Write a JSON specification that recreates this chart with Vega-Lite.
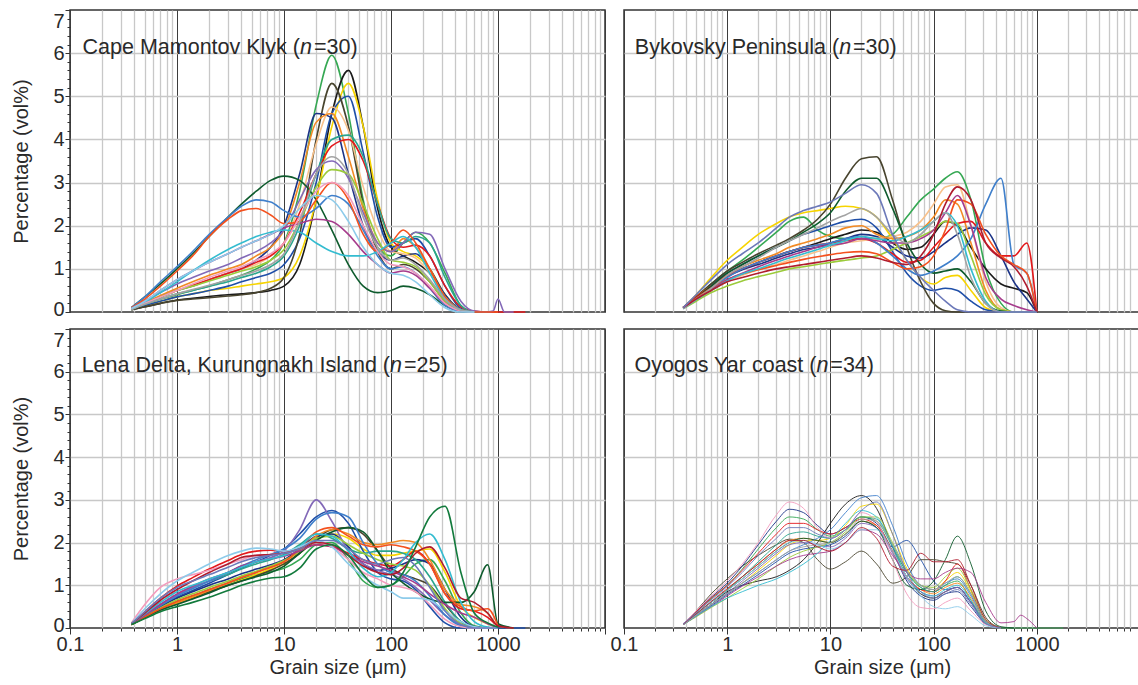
{
"$schema":"https://vega.github.io/schema/vega-lite/v6.json",
"padding":{"left":11,"top":7,"right":0,"bottom":0},
"config":{"font":"Liberation Sans","view":{"stroke":"#333","strokeWidth":1.5},
"axis":{"labelFont":"Liberation Sans","labelFontSize":20,"labelColor":"#2a2a2a","titleFont":"Liberation Sans","titleFontSize":20,"titleFontWeight":"normal","titleColor":"#2a2a2a","tickCount":200},
"text":{"font":"Liberation Sans","fontSize":21.5,"color":"#2a2a2a"}},
"datasets":{
"A":[
{"x":0.375,"k1":0.08,"k2":0.05,"k3":0.06,"k4":0.06,"k5":0.05,"k6":0.07,"k7":0.08,"k8":0.08,"k9":0.07,"k10":0.06,"k11":0.08,"k12":0.07,"k13":0.1,"k14":0.1,"k15":0.1,"k16":0.08,"k17":0.07,"k18":0.07,"k19":0.06,"k20":0.08},
{"x":0.5,"k1":0.18,"k2":0.12,"k3":0.15,"k4":0.15,"k5":0.12,"k6":0.2,"k7":0.2,"k8":0.22,"k9":0.2,"k10":0.18,"k11":0.25,"k12":0.2,"k13":0.35,"k14":0.35,"k15":0.3,"k16":0.25,"k17":0.22,"k18":0.2,"k19":0.18,"k20":0.25},
{"x":0.7,"k1":0.3,"k2":0.2,"k3":0.25,"k4":0.25,"k5":0.2,"k6":0.35,"k7":0.35,"k8":0.38,"k9":0.35,"k10":0.3,"k11":0.45,"k12":0.35,"k13":0.65,"k14":0.7,"k15":0.6,"k16":0.5,"k17":0.45,"k18":0.35,"k19":0.3,"k20":0.5},
{"x":1,"k1":0.4,"k2":0.28,"k3":0.35,"k4":0.35,"k5":0.27,"k6":0.5,"k7":0.5,"k8":0.55,"k9":0.5,"k10":0.42,"k11":0.65,"k12":0.5,"k13":1.0,"k14":1.05,"k15":0.95,"k16":0.75,"k17":0.7,"k18":0.5,"k19":0.42,"k20":0.75},
{"x":1.4,"k1":0.5,"k2":0.32,"k3":0.42,"k4":0.42,"k5":0.3,"k6":0.6,"k7":0.62,"k8":0.7,"k9":0.62,"k10":0.5,"k11":0.8,"k12":0.6,"k13":1.35,"k14":1.4,"k15":1.3,"k16":0.95,"k17":0.95,"k18":0.65,"k19":0.52,"k20":0.95},
{"x":2,"k1":0.6,"k2":0.36,"k3":0.5,"k4":0.5,"k5":0.33,"k6":0.75,"k7":0.75,"k8":0.85,"k9":0.75,"k10":0.6,"k11":0.95,"k12":0.72,"k13":1.75,"k14":1.8,"k15":1.75,"k16":1.15,"k17":1.2,"k18":0.8,"k19":0.62,"k20":1.15},
{"x":3,"k1":0.75,"k2":0.4,"k3":0.55,"k4":0.6,"k5":0.37,"k6":0.9,"k7":0.9,"k8":1.0,"k9":0.9,"k10":0.7,"k11":1.1,"k12":0.85,"k13":2.2,"k14":2.2,"k15":2.15,"k16":1.35,"k17":1.45,"k18":0.95,"k19":0.75,"k20":1.35},
{"x":4,"k1":0.85,"k2":0.42,"k3":0.6,"k4":0.7,"k5":0.4,"k6":1.0,"k7":1.0,"k8":1.1,"k9":1.0,"k10":0.8,"k11":1.25,"k12":0.95,"k13":2.5,"k14":2.45,"k15":2.35,"k16":1.5,"k17":1.6,"k18":1.05,"k19":0.85,"k20":1.5},
{"x":5.5,"k1":1.0,"k2":0.45,"k3":0.65,"k4":0.8,"k5":0.45,"k6":1.2,"k7":1.1,"k8":1.3,"k9":1.15,"k10":0.9,"k11":1.4,"k12":1.05,"k13":2.8,"k14":2.6,"k15":2.4,"k16":1.65,"k17":1.75,"k18":1.2,"k19":0.95,"k20":1.65},
{"x":7.5,"k1":1.2,"k2":0.5,"k3":0.7,"k4":0.9,"k5":0.55,"k6":1.5,"k7":1.3,"k8":1.5,"k9":1.3,"k10":1.05,"k11":1.6,"k12":1.2,"k13":3.05,"k14":2.55,"k15":2.25,"k16":1.8,"k17":1.85,"k18":1.35,"k19":1.1,"k20":1.8},
{"x":10,"k1":1.6,"k2":0.6,"k3":0.8,"k4":1.1,"k5":0.8,"k6":2.0,"k7":1.6,"k8":1.9,"k9":1.6,"k10":1.3,"k11":1.9,"k12":1.45,"k13":3.15,"k14":2.35,"k15":2.05,"k16":1.95,"k17":1.9,"k18":1.6,"k19":1.35,"k20":2.0},
{"x":14,"k1":2.8,"k2":1.1,"k3":1.3,"k4":1.7,"k5":1.8,"k6":3.2,"k7":2.5,"k8":3.0,"k9":2.3,"k10":2.0,"k11":2.6,"k12":2.1,"k13":3.05,"k14":2.2,"k15":2.1,"k16":2.05,"k17":1.85,"k18":2.2,"k19":2.1,"k20":2.4},
{"x":20,"k1":4.8,"k2":2.6,"k3":2.6,"k4":3.0,"k5":4.0,"k6":4.6,"k7":3.9,"k8":4.4,"k9":3.2,"k10":3.2,"k11":3.3,"k12":2.9,"k13":2.6,"k14":2.4,"k15":2.6,"k16":2.15,"k17":1.6,"k18":2.8,"k19":3.2,"k20":2.7},
{"x":28,"k1":5.95,"k2":4.6,"k3":4.3,"k4":4.6,"k5":5.3,"k6":4.5,"k7":4.75,"k8":4.6,"k9":3.85,"k10":4.0,"k11":3.5,"k12":3.3,"k13":1.9,"k14":2.7,"k15":3.0,"k16":2.1,"k17":1.4,"k18":3.0,"k19":3.6,"k20":2.6},
{"x":40,"k1":4.6,"k2":5.6,"k3":5.3,"k4":5.0,"k5":4.3,"k6":3.2,"k7":4.2,"k8":3.6,"k9":4.0,"k10":4.1,"k11":3.1,"k12":3.2,"k13":1.1,"k14":2.5,"k15":2.6,"k16":1.8,"k17":1.3,"k18":2.7,"k19":3.2,"k20":2.1},
{"x":55,"k1":2.6,"k2":4.3,"k3":4.3,"k4":3.7,"k5":2.5,"k6":2.0,"k7":2.9,"k8":2.4,"k9":3.5,"k10":3.6,"k11":2.3,"k12":2.5,"k13":0.6,"k14":1.9,"k15":1.8,"k16":1.4,"k17":1.3,"k18":2.0,"k19":2.2,"k20":1.5},
{"x":75,"k1":1.5,"k2":2.4,"k3":2.6,"k4":2.2,"k5":1.4,"k6":1.4,"k7":1.9,"k8":1.6,"k9":2.5,"k10":2.5,"k11":1.6,"k12":1.7,"k13":0.45,"k14":1.3,"k15":1.4,"k16":1.1,"k17":1.4,"k18":1.4,"k19":1.5,"k20":1.1},
{"x":100,"k1":1.3,"k2":1.5,"k3":1.6,"k4":1.5,"k5":1.0,"k6":1.2,"k7":1.4,"k8":1.4,"k9":1.7,"k10":1.7,"k11":1.4,"k12":1.2,"k13":0.5,"k14":1.0,"k15":1.6,"k16":0.9,"k17":1.6,"k18":1.1,"k19":1.2,"k20":0.9},
{"x":130,"k1":1.6,"k2":1.3,"k3":1.4,"k4":1.6,"k5":1.1,"k6":1.3,"k7":1.35,"k8":1.7,"k9":1.5,"k10":1.6,"k11":1.6,"k12":1.15,"k13":0.6,"k14":1.05,"k15":1.9,"k16":0.95,"k17":1.75,"k18":1.05,"k19":1.25,"k20":0.85},
{"x":170,"k1":1.85,"k2":1.15,"k3":1.3,"k4":1.7,"k5":1.0,"k6":1.35,"k7":1.25,"k8":1.5,"k9":1.55,"k10":1.75,"k11":1.85,"k12":1.05,"k13":0.55,"k14":0.9,"k15":1.6,"k16":0.85,"k17":1.5,"k18":0.9,"k19":1.1,"k20":0.7},
{"x":230,"k1":1.6,"k2":0.9,"k3":1.0,"k4":1.3,"k5":0.7,"k6":1.0,"k7":0.9,"k8":1.0,"k9":1.3,"k10":1.6,"k11":1.8,"k12":0.7,"k13":0.4,"k14":0.55,"k15":1.0,"k16":0.55,"k17":0.9,"k18":0.6,"k19":0.75,"k20":0.4},
{"x":320,"k1":0.9,"k2":0.4,"k3":0.4,"k4":0.6,"k5":0.25,"k6":0.4,"k7":0.35,"k8":0.35,"k9":0.6,"k10":0.8,"k11":1.0,"k12":0.25,"k13":0.15,"k14":0.15,"k15":0.35,"k16":0.2,"k17":0.3,"k18":0.2,"k19":0.3,"k20":0.1},
{"x":450,"k1":0.15,"k2":0.05,"k3":0.05,"k4":0.08,"k5":0.03,"k6":0.05,"k7":0.05,"k8":0.05,"k9":0.12,"k10":0.15,"k11":0.25,"k12":0.03,"k13":0.02,"k14":0.02,"k15":0.05,"k16":0.03,"k17":0.05,"k18":0.03,"k19":0.04,"k20":0},
{"x":600,"k1":0,"k2":0,"k3":0,"k4":0,"k5":0,"k6":0,"k7":0,"k8":0,"k9":0.02,"k10":0,"k11":0.02,"k12":0,"k13":0,"k14":0,"k15":0,"k16":0,"k17":0,"k18":0,"k19":0,"k20":0},
{"x":800,"k1":0,"k2":0,"k4":0,"k9":0,"k10":0,"k11":0,"k15":0},
{"x":900,"k11":0.02},
{"x":1000,"k9":0,"k11":0.3,"k15":0},
{"x":1150,"k11":0},
{"x":1400,"k9":0,"k11":0},
{"x":1800,"k9":0}
],
"B":[
{"x":0.375,"k1":0.1,"k2":0.1,"k3":0.1,"k4":0.1,"k5":0.1,"k6":0.1,"k7":0.08,"k8":0.1,"k9":0.1,"k12":0.08,"k13":0.1,"k14":0.08,"k15":0.1,"k16":0.09,"k17":0.08,"k19":0.08,"k21":0.1,"k22":0.1},
{"x":0.5,"k1":0.35,"k2":0.33,"k3":0.4,"k4":0.35,"k5":0.35,"k6":0.33,"k7":0.28,"k8":0.35,"k9":0.35,"k12":0.25,"k13":0.33,"k14":0.3,"k15":0.32,"k16":0.3,"k17":0.28,"k19":0.3,"k21":0.3,"k22":0.4},
{"x":0.7,"k1":0.65,"k2":0.6,"k3":0.8,"k4":0.62,"k5":0.65,"k6":0.58,"k7":0.5,"k8":0.6,"k9":0.6,"k12":0.45,"k13":0.6,"k14":0.55,"k15":0.55,"k16":0.52,"k17":0.5,"k19":0.55,"k21":0.5,"k22":0.75},
{"x":1,"k1":0.95,"k2":0.85,"k3":1.2,"k4":0.9,"k5":0.95,"k6":0.82,"k7":0.7,"k8":0.85,"k9":0.85,"k12":0.6,"k13":0.9,"k14":0.8,"k15":0.75,"k16":0.75,"k17":0.72,"k19":0.85,"k21":0.7,"k22":1.1},
{"x":1.4,"k1":1.2,"k2":1.0,"k3":1.5,"k4":1.1,"k5":1.15,"k6":0.98,"k7":0.85,"k8":1.05,"k9":1.0,"k12":0.72,"k13":1.1,"k14":1.0,"k15":0.88,"k16":0.9,"k17":0.88,"k19":1.05,"k21":0.8,"k22":1.35},
{"x":2,"k1":1.5,"k2":1.15,"k3":1.8,"k4":1.3,"k5":1.35,"k6":1.1,"k7":0.98,"k8":1.2,"k9":1.15,"k12":0.82,"k13":1.3,"k14":1.15,"k15":0.98,"k16":1.05,"k17":1.0,"k19":1.25,"k21":0.9,"k22":1.6},
{"x":3,"k1":1.85,"k2":1.3,"k3":2.05,"k4":1.5,"k5":1.55,"k6":1.25,"k7":1.1,"k8":1.35,"k9":1.3,"k12":0.92,"k13":1.5,"k14":1.3,"k15":1.08,"k16":1.2,"k17":1.15,"k19":1.5,"k21":1.0,"k22":1.95},
{"x":4,"k1":2.1,"k2":1.4,"k3":2.2,"k4":1.65,"k5":1.7,"k6":1.35,"k7":1.2,"k8":1.5,"k9":1.4,"k12":1.0,"k13":1.65,"k14":1.4,"k15":1.15,"k16":1.3,"k17":1.25,"k19":1.65,"k21":1.05,"k22":2.2},
{"x":5.5,"k1":2.2,"k2":1.5,"k3":2.3,"k4":1.8,"k5":1.9,"k6":1.45,"k7":1.3,"k8":1.6,"k9":1.5,"k12":1.05,"k13":1.85,"k14":1.5,"k15":1.22,"k16":1.4,"k17":1.35,"k19":1.8,"k21":1.1,"k22":2.35},
{"x":7.5,"k1":1.9,"k2":1.6,"k3":2.35,"k4":1.9,"k5":2.15,"k6":1.5,"k7":1.4,"k8":1.7,"k9":1.55,"k12":1.1,"k13":2.05,"k14":1.55,"k15":1.28,"k16":1.5,"k17":1.45,"k19":1.95,"k21":1.15,"k22":2.45},
{"x":10,"k1":1.75,"k2":1.7,"k3":2.4,"k4":2.0,"k5":2.5,"k6":1.6,"k7":1.5,"k8":1.8,"k9":1.6,"k12":1.15,"k13":2.3,"k14":1.6,"k15":1.33,"k16":1.55,"k17":1.55,"k19":2.1,"k21":1.2,"k22":2.55},
{"x":14,"k1":1.7,"k2":1.8,"k3":2.45,"k4":2.1,"k5":3.1,"k6":1.7,"k7":1.6,"k8":1.95,"k9":1.65,"k12":1.2,"k13":2.8,"k14":1.7,"k15":1.38,"k16":1.6,"k17":1.65,"k19":2.25,"k21":1.25,"k22":2.75},
{"x":20,"k1":1.7,"k2":1.9,"k3":2.4,"k4":2.15,"k5":3.55,"k6":1.8,"k7":1.65,"k8":2.0,"k9":1.7,"k12":1.25,"k13":3.1,"k14":1.75,"k15":1.4,"k16":1.7,"k17":1.75,"k19":2.4,"k21":1.3,"k22":2.95},
{"x":28,"k1":1.7,"k2":1.85,"k3":2.2,"k4":1.95,"k5":3.6,"k6":1.75,"k7":1.7,"k8":1.8,"k9":1.6,"k12":1.3,"k13":3.1,"k14":1.6,"k15":1.35,"k16":1.65,"k17":1.7,"k19":2.2,"k21":1.25,"k22":2.75},
{"x":40,"k1":1.8,"k2":1.6,"k3":1.7,"k4":1.4,"k5":2.6,"k6":1.5,"k7":1.75,"k8":1.7,"k9":1.35,"k12":1.45,"k13":2.4,"k14":1.3,"k15":1.15,"k16":1.6,"k17":1.65,"k19":1.8,"k21":1.15,"k22":1.8},
{"x":55,"k1":2.2,"k2":1.45,"k3":1.2,"k4":0.9,"k5":1.5,"k6":1.3,"k7":1.85,"k8":1.75,"k9":1.15,"k12":1.6,"k13":1.6,"k14":1.0,"k15":1.0,"k16":1.6,"k17":1.75,"k19":1.6,"k21":1.1,"k22":1.2},
{"x":75,"k1":2.6,"k2":1.5,"k3":0.8,"k4":0.6,"k5":0.7,"k6":1.25,"k7":2.1,"k8":1.9,"k9":1.2,"k12":1.75,"k13":1.1,"k14":0.85,"k15":1.05,"k16":1.7,"k17":1.9,"k19":1.8,"k21":1.3,"k22":0.8},
{"x":100,"k1":2.85,"k2":1.8,"k3":0.65,"k4":0.5,"k5":0.2,"k6":1.4,"k7":2.5,"k8":2.2,"k9":1.5,"k12":1.9,"k13":0.9,"k14":0.95,"k15":1.3,"k16":1.9,"k17":2.1,"k19":2.1,"k21":1.8,"k22":0.5},
{"x":130,"k1":3.1,"k2":2.1,"k3":0.8,"k4":0.55,"k5":0.03,"k6":1.6,"k7":2.9,"k8":2.6,"k9":1.8,"k12":2.1,"k13":0.95,"k14":1.1,"k15":1.9,"k16":2.3,"k17":2.3,"k19":2.3,"k21":2.5,"k22":0.25},
{"x":170,"k1":3.25,"k2":2.0,"k3":0.85,"k4":0.5,"k5":0,"k6":1.8,"k7":2.95,"k8":2.5,"k9":2.05,"k12":2.05,"k13":1.0,"k14":1.3,"k15":2.6,"k16":2.7,"k17":2.0,"k19":1.8,"k21":2.9,"k22":0.05},
{"x":230,"k1":2.6,"k2":1.5,"k3":0.5,"k4":0.25,"k5":0,"k6":1.95,"k7":2.0,"k8":1.6,"k9":2.1,"k12":1.3,"k13":0.7,"k14":1.7,"k15":2.5,"k16":2.0,"k17":1.0,"k19":0.8,"k21":2.6,"k22":0},
{"x":320,"k1":1.0,"k2":1.0,"k3":0.1,"k4":0.05,"k5":0,"k6":1.9,"k7":0.7,"k8":0.5,"k9":1.6,"k12":0.4,"k13":0.2,"k14":2.5,"k15":1.8,"k16":0.8,"k17":0.25,"k19":0.2,"k21":1.6,"k22":0},
{"x":450,"k1":0.2,"k2":0.65,"k3":0,"k4":0,"k5":0,"k6":1.3,"k7":0.1,"k8":0.05,"k9":1.3,"k12":0.05,"k13":0.02,"k14":3.1,"k15":1.3,"k16":0.3,"k17":0,"k19":0,"k21":1.25,"k22":0},
{"x":600,"k1":0,"k2":0.55,"k3":0,"k4":0,"k5":0,"k6":0.7,"k7":0,"k8":0,"k9":1.3,"k12":0,"k13":0,"k14":1.1,"k15":1.1,"k16":0.15,"k17":0,"k19":0,"k21":1.05,"k22":0},
{"x":800,"k1":0,"k2":0.45,"k3":0,"k4":0,"k5":0,"k6":0.3,"k7":0,"k8":0,"k9":1.6,"k12":0,"k13":0,"k14":0.9,"k15":0.9,"k16":0.05,"k17":0,"k19":0,"k21":0.6,"k22":0},
{"x":1000,"k1":0,"k2":0,"k3":0,"k4":0,"k5":0,"k6":0,"k7":0,"k8":0,"k9":0,"k12":0,"k13":0,"k14":0,"k15":0,"k16":0,"k17":0,"k19":0,"k21":0,"k22":0}
],
"C":[
{"x":0.375,"k1":0.08,"k3":0.08,"k4":0.1,"k5":0.08,"k6":0.09,"k8":0.08,"k9":0.1,"k10":0.09,"k11":0.08,"k12":0.08,"k13":0.08,"k14":0.1,"k15":0.08,"k16":0.09,"k17":0.1,"k18":0.12,"k20":0.1,"k21":0.1,"k22":0.1,"k23":0.08},
{"x":0.5,"k1":0.26,"k3":0.25,"k4":0.3,"k5":0.24,"k6":0.28,"k8":0.24,"k9":0.38,"k10":0.3,"k11":0.3,"k12":0.27,"k13":0.25,"k14":0.3,"k15":0.26,"k16":0.3,"k17":0.33,"k18":0.55,"k20":0.45,"k21":0.35,"k22":0.38,"k23":0.22},
{"x":0.7,"k1":0.45,"k3":0.43,"k4":0.5,"k5":0.42,"k6":0.5,"k8":0.42,"k9":0.7,"k10":0.55,"k11":0.55,"k12":0.47,"k13":0.42,"k14":0.52,"k15":0.45,"k16":0.55,"k17":0.6,"k18":0.95,"k20":0.8,"k21":0.65,"k22":0.7,"k23":0.38},
{"x":1,"k1":0.62,"k3":0.6,"k4":0.72,"k5":0.57,"k6":0.7,"k8":0.58,"k9":0.98,"k10":0.78,"k11":0.78,"k12":0.66,"k13":0.55,"k14":0.75,"k15":0.62,"k16":0.8,"k17":0.85,"k18":1.15,"k20":1.1,"k21":0.9,"k22":0.95,"k23":0.5},
{"x":1.4,"k1":0.75,"k3":0.72,"k4":0.88,"k5":0.7,"k6":0.85,"k8":0.72,"k9":1.18,"k10":0.95,"k11":0.95,"k12":0.8,"k13":0.68,"k14":0.92,"k15":0.76,"k16":0.98,"k17":1.0,"k18":1.25,"k20":1.3,"k21":1.1,"k22":1.1,"k23":0.6},
{"x":2,"k1":0.9,"k3":0.85,"k4":1.05,"k5":0.85,"k6":1.0,"k8":0.88,"k9":1.38,"k10":1.1,"k11":1.1,"k12":0.95,"k13":0.82,"k14":1.1,"k15":0.9,"k16":1.15,"k17":1.15,"k18":1.35,"k20":1.5,"k21":1.3,"k22":1.25,"k23":0.72},
{"x":3,"k1":1.05,"k3":1.0,"k4":1.25,"k5":1.0,"k6":1.15,"k8":1.05,"k9":1.58,"k10":1.25,"k11":1.3,"k12":1.1,"k13":1.0,"k14":1.3,"k15":1.06,"k16":1.3,"k17":1.3,"k18":1.5,"k20":1.7,"k21":1.5,"k22":1.42,"k23":0.88},
{"x":4,"k1":1.15,"k3":1.12,"k4":1.4,"k5":1.1,"k6":1.27,"k8":1.18,"k9":1.72,"k10":1.38,"k11":1.45,"k12":1.22,"k13":1.1,"k14":1.45,"k15":1.18,"k16":1.45,"k17":1.42,"k18":1.6,"k20":1.8,"k21":1.65,"k22":1.55,"k23":1.0},
{"x":5.5,"k1":1.25,"k3":1.25,"k4":1.55,"k5":1.22,"k6":1.38,"k8":1.3,"k9":1.8,"k10":1.5,"k11":1.55,"k12":1.33,"k13":1.2,"k14":1.6,"k15":1.3,"k16":1.55,"k17":1.55,"k18":1.7,"k20":1.87,"k21":1.7,"k22":1.65,"k23":1.1},
{"x":7.5,"k1":1.32,"k3":1.38,"k4":1.7,"k5":1.35,"k6":1.48,"k8":1.42,"k9":1.82,"k10":1.6,"k11":1.65,"k12":1.45,"k13":1.3,"k14":1.72,"k15":1.42,"k16":1.62,"k17":1.62,"k18":1.72,"k20":1.85,"k21":1.72,"k22":1.7,"k23":1.17},
{"x":10,"k1":1.4,"k3":1.5,"k4":1.85,"k5":1.5,"k6":1.6,"k8":1.55,"k9":1.8,"k10":1.72,"k11":1.8,"k12":1.58,"k13":1.45,"k14":1.85,"k15":1.55,"k16":1.68,"k17":1.7,"k18":1.75,"k20":1.8,"k21":1.75,"k22":1.75,"k23":1.2},
{"x":14,"k1":1.6,"k3":1.75,"k4":2.2,"k5":1.75,"k6":1.85,"k8":1.8,"k9":1.85,"k10":1.95,"k11":2.3,"k12":1.8,"k13":1.75,"k14":2.1,"k15":1.85,"k16":1.8,"k17":1.9,"k18":1.85,"k20":1.9,"k21":1.85,"k22":1.85,"k23":1.4},
{"x":20,"k1":1.95,"k3":2.05,"k4":2.6,"k5":2.1,"k6":2.15,"k8":2.15,"k9":1.95,"k10":2.2,"k11":3.0,"k12":2.1,"k13":2.05,"k14":2.55,"k15":2.25,"k16":1.95,"k17":2.2,"k18":2.0,"k20":2.05,"k21":2.0,"k22":2.05,"k23":1.85},
{"x":28,"k1":2.0,"k3":2.2,"k4":2.75,"k5":2.3,"k6":2.2,"k8":2.3,"k9":1.9,"k10":2.1,"k11":2.5,"k12":2.15,"k13":2.25,"k14":2.7,"k15":2.35,"k16":1.9,"k17":2.15,"k18":1.9,"k20":1.9,"k21":1.95,"k22":2.05,"k23":1.95},
{"x":40,"k1":1.6,"k3":2.1,"k4":2.45,"k5":2.35,"k6":1.9,"k8":2.2,"k9":1.75,"k10":1.85,"k11":1.8,"k12":1.95,"k13":2.35,"k14":2.6,"k15":2.15,"k16":1.7,"k17":1.8,"k18":1.6,"k20":1.5,"k21":1.7,"k22":1.85,"k23":1.7},
{"x":55,"k1":1.1,"k3":1.85,"k4":1.8,"k5":2.2,"k6":1.5,"k8":2.0,"k9":1.6,"k10":1.75,"k11":1.5,"k12":1.75,"k13":2.25,"k14":2.0,"k15":1.95,"k16":1.55,"k17":1.4,"k18":1.3,"k20":1.2,"k21":1.45,"k22":1.6,"k23":1.25},
{"x":75,"k1":0.95,"k3":1.7,"k4":1.3,"k5":1.8,"k6":1.35,"k8":1.95,"k9":1.5,"k10":1.8,"k11":1.35,"k12":1.6,"k13":1.8,"k14":1.5,"k15":1.9,"k16":1.45,"k17":1.2,"k18":1.15,"k20":1.0,"k21":1.3,"k22":1.5,"k23":0.95},
{"x":100,"k1":1.0,"k3":1.7,"k4":1.15,"k5":1.4,"k6":1.4,"k8":2.0,"k9":1.45,"k10":1.8,"k11":1.25,"k12":1.5,"k13":1.3,"k14":1.3,"k15":1.95,"k16":1.35,"k17":1.3,"k18":1.0,"k20":0.85,"k21":1.25,"k22":1.6,"k23":1.0},
{"x":130,"k1":1.2,"k3":1.75,"k4":1.1,"k5":1.25,"k6":1.5,"k8":2.05,"k9":1.6,"k10":1.75,"k11":1.15,"k12":1.45,"k13":1.05,"k14":1.25,"k15":1.9,"k16":1.2,"k17":1.6,"k18":0.95,"k20":0.7,"k21":1.4,"k22":1.65,"k23":1.3},
{"x":170,"k1":1.5,"k3":1.8,"k4":0.9,"k5":1.15,"k6":1.6,"k8":2.0,"k9":1.8,"k10":1.6,"k11":0.95,"k12":1.35,"k13":0.85,"k14":1.1,"k15":1.8,"k16":1.05,"k17":2.0,"k18":0.85,"k20":0.7,"k21":1.75,"k22":1.45,"k23":1.9},
{"x":230,"k1":1.6,"k3":1.85,"k4":0.5,"k5":1.0,"k6":1.5,"k8":1.6,"k9":1.5,"k10":1.2,"k11":0.65,"k12":1.0,"k13":0.68,"k14":0.75,"k15":1.5,"k16":0.8,"k17":2.2,"k18":0.55,"k20":0.65,"k21":1.9,"k22":0.95,"k23":2.6},
{"x":320,"k1":1.1,"k3":1.3,"k4":0.12,"k5":0.55,"k6":0.9,"k8":0.9,"k9":0.8,"k10":0.6,"k11":0.3,"k12":0.45,"k13":0.6,"k14":0.3,"k15":0.8,"k16":0.55,"k17":1.6,"k18":0.2,"k20":0.4,"k21":1.4,"k22":0.4,"k23":2.85},
{"x":450,"k1":0.35,"k3":0.5,"k4":0,"k5":0.15,"k6":0.25,"k8":0.55,"k9":0.45,"k10":0.15,"k11":0.08,"k12":0.1,"k13":0.6,"k14":0.05,"k15":0.5,"k16":0.35,"k17":0.6,"k18":0.03,"k20":0.15,"k21":0.7,"k22":0.08,"k23":1.3},
{"x":600,"k1":0.05,"k3":0.25,"k4":0,"k5":0.02,"k6":0.03,"k8":0.5,"k9":0.4,"k10":0.02,"k11":0.02,"k12":0,"k13":0.85,"k14":0,"k15":0.4,"k16":0.25,"k17":0.15,"k18":0,"k20":0.03,"k21":0.6,"k22":0,"k23":0.35},
{"x":800,"k1":0,"k3":0.1,"k4":0,"k5":0,"k6":0,"k8":0.35,"k9":0.25,"k10":0,"k11":0,"k12":0,"k13":1.48,"k14":0,"k15":0.45,"k16":0.1,"k17":0.02,"k18":0,"k20":0,"k21":0.35,"k22":0,"k23":0.12},
{"x":1000,"k1":0,"k3":0,"k4":0,"k5":0,"k6":0,"k8":0.05,"k9":0.03,"k10":0,"k11":0,"k12":0,"k13":0.1,"k14":0,"k15":0.05,"k16":0,"k17":0,"k18":0,"k20":0,"k21":0.05,"k22":0,"k23":0.02},
{"x":1400,"k4":0,"k8":0,"k13":0,"k21":0},
{"x":1800,"k4":0}
],
"D":[
{"x":0.375,"k1":0.1,"k2":0.08,"k3":0.08,"k4":0.08,"k5":0.1,"k6":0.1,"k8":0.09,"k9":0.1,"k10":0.09,"k11":0.08,"k12":0.08,"k13":0.09,"k14":0.08,"k16":0.08,"k17":0.08,"k18":0.1,"k19":0.08,"k20":0.09,"k21":0.09,"k22":0.1},
{"x":0.5,"k1":0.36,"k2":0.3,"k3":0.3,"k4":0.28,"k5":0.4,"k6":0.38,"k8":0.32,"k9":0.38,"k10":0.33,"k11":0.3,"k12":0.26,"k13":0.33,"k14":0.3,"k16":0.28,"k17":0.28,"k18":0.4,"k19":0.3,"k20":0.33,"k21":0.33,"k22":0.36},
{"x":0.7,"k1":0.68,"k2":0.55,"k3":0.55,"k4":0.52,"k5":0.8,"k6":0.72,"k8":0.6,"k9":0.7,"k10":0.6,"k11":0.55,"k12":0.48,"k13":0.6,"k14":0.55,"k16":0.5,"k17":0.5,"k18":0.75,"k19":0.55,"k20":0.6,"k21":0.62,"k22":0.66},
{"x":1,"k1":1.0,"k2":0.85,"k3":0.8,"k4":0.78,"k5":1.15,"k6":1.05,"k8":0.9,"k9":1.0,"k10":0.88,"k11":0.82,"k12":0.7,"k13":0.88,"k14":0.8,"k16":0.75,"k17":0.7,"k18":1.1,"k19":0.8,"k20":0.88,"k21":0.92,"k22":0.97},
{"x":1.4,"k1":1.38,"k2":1.0,"k3":1.05,"k4":1.0,"k5":1.45,"k6":1.45,"k8":1.2,"k9":1.35,"k10":1.2,"k11":1.1,"k12":0.92,"k13":1.15,"k14":1.05,"k16":0.98,"k17":0.85,"k18":1.5,"k19":1.05,"k20":1.15,"k21":1.2,"k22":1.3},
{"x":2,"k1":1.85,"k2":1.1,"k3":1.35,"k4":1.25,"k5":1.7,"k6":1.95,"k8":1.5,"k9":1.75,"k10":1.55,"k11":1.4,"k12":1.15,"k13":1.45,"k14":1.3,"k16":1.2,"k17":1.0,"k18":2.0,"k19":1.3,"k20":1.45,"k21":1.5,"k22":1.7},
{"x":3,"k1":2.35,"k2":1.2,"k3":1.7,"k4":1.55,"k5":1.95,"k6":2.5,"k8":1.85,"k9":2.2,"k10":1.95,"k11":1.75,"k12":1.45,"k13":1.8,"k14":1.6,"k16":1.45,"k17":1.15,"k18":2.65,"k19":1.6,"k20":1.8,"k21":1.85,"k22":2.1},
{"x":4,"k1":2.6,"k2":1.35,"k3":1.95,"k4":1.75,"k5":2.08,"k6":2.78,"k8":2.05,"k9":2.45,"k10":2.2,"k11":1.95,"k12":1.65,"k13":2.0,"k14":1.8,"k16":1.6,"k17":1.3,"k18":2.95,"k19":1.8,"k20":2.0,"k21":2.05,"k22":2.35},
{"x":5.5,"k1":2.55,"k2":1.6,"k3":2.05,"k4":1.85,"k5":2.0,"k6":2.7,"k8":2.1,"k9":2.45,"k10":2.25,"k11":2.0,"k12":1.8,"k13":2.1,"k14":1.95,"k16":1.7,"k17":1.5,"k18":2.8,"k19":1.9,"k20":2.05,"k21":2.05,"k22":2.35},
{"x":7.5,"k1":2.3,"k2":2.0,"k3":2.05,"k4":1.9,"k5":1.6,"k6":2.4,"k8":2.05,"k9":2.3,"k10":2.15,"k11":1.95,"k12":1.9,"k13":2.05,"k14":2.1,"k16":1.75,"k17":1.75,"k18":2.35,"k19":1.95,"k20":1.95,"k21":1.9,"k22":2.2},
{"x":10,"k1":2.15,"k2":2.45,"k3":2.1,"k4":1.95,"k5":1.38,"k6":2.2,"k8":2.0,"k9":2.2,"k10":2.1,"k11":1.9,"k12":2.0,"k13":2.0,"k14":2.3,"k16":1.8,"k17":2.05,"k18":2.1,"k19":2.0,"k20":1.85,"k21":1.8,"k22":2.1},
{"x":14,"k1":2.3,"k2":2.9,"k3":2.4,"k4":2.15,"k5":1.55,"k6":2.35,"k8":2.2,"k9":2.35,"k10":2.3,"k11":2.1,"k12":2.25,"k13":2.2,"k14":2.7,"k16":2.0,"k17":2.45,"k18":2.3,"k19":2.2,"k20":2.0,"k21":2.0,"k22":2.3},
{"x":20,"k1":2.6,"k2":3.1,"k3":2.85,"k4":2.5,"k5":1.8,"k6":2.6,"k8":2.5,"k9":2.55,"k10":2.6,"k11":2.45,"k12":2.6,"k13":2.5,"k14":3.05,"k16":2.3,"k17":2.75,"k18":2.7,"k19":2.55,"k20":2.3,"k21":2.35,"k22":2.75},
{"x":28,"k1":2.5,"k2":2.8,"k3":2.9,"k4":2.35,"k5":1.5,"k6":2.45,"k8":2.4,"k9":2.4,"k10":2.55,"k11":2.35,"k12":2.6,"k13":2.35,"k14":3.1,"k16":2.2,"k17":2.6,"k18":2.5,"k19":2.5,"k20":2.3,"k21":2.1,"k22":2.95},
{"x":40,"k1":1.9,"k2":1.9,"k3":2.2,"k4":1.9,"k5":1.05,"k6":1.8,"k8":1.8,"k9":1.8,"k10":1.95,"k11":1.75,"k12":2.0,"k13":1.6,"k14":2.4,"k16":1.7,"k17":1.9,"k18":1.6,"k19":1.95,"k20":1.8,"k21":1.45,"k22":2.2},
{"x":55,"k1":1.3,"k2":1.2,"k3":1.4,"k4":2.05,"k5":1.2,"k6":1.1,"k8":1.2,"k9":1.2,"k10":1.3,"k11":1.15,"k12":1.35,"k13":1.0,"k14":1.5,"k16":1.3,"k17":1.2,"k18":0.8,"k19":1.35,"k20":1.2,"k21":1.35,"k22":1.3},
{"x":75,"k1":0.95,"k2":0.8,"k3":1.0,"k4":1.6,"k5":1.6,"k6":0.75,"k8":0.9,"k9":0.9,"k10":0.95,"k11":0.85,"k12":1.0,"k13":0.9,"k14":1.0,"k16":1.15,"k17":0.85,"k18":0.48,"k19":1.0,"k20":0.75,"k21":1.75,"k22":0.85},
{"x":100,"k1":0.85,"k2":0.7,"k3":0.9,"k4":1.1,"k5":1.6,"k6":0.65,"k8":0.8,"k9":0.85,"k10":0.85,"k11":0.75,"k12":0.95,"k13":1.1,"k14":0.9,"k16":1.15,"k17":0.75,"k18":0.45,"k19":0.9,"k20":0.5,"k21":1.55,"k22":0.7},
{"x":130,"k1":1.0,"k2":0.85,"k3":1.1,"k4":0.9,"k5":1.55,"k6":0.8,"k8":0.95,"k9":1.1,"k10":1.0,"k11":0.85,"k12":1.2,"k13":1.6,"k14":1.05,"k16":1.3,"k17":0.9,"k18":0.6,"k19":1.05,"k20":0.45,"k21":1.55,"k22":0.8},
{"x":170,"k1":1.1,"k2":0.95,"k3":1.3,"k4":0.95,"k5":1.5,"k6":0.85,"k8":1.05,"k9":1.5,"k10":1.2,"k11":0.95,"k12":1.4,"k13":2.15,"k14":1.15,"k16":1.4,"k17":1.0,"k18":0.7,"k19":1.2,"k20":0.5,"k21":1.6,"k22":0.9},
{"x":230,"k1":0.65,"k2":0.6,"k3":0.85,"k4":0.6,"k5":1.0,"k6":0.5,"k8":0.7,"k9":0.9,"k10":0.8,"k11":0.6,"k12":0.9,"k13":1.5,"k14":0.75,"k16":1.3,"k17":0.65,"k18":0.4,"k19":0.8,"k20":0.3,"k21":1.0,"k22":0.55},
{"x":320,"k1":0.12,"k2":0.15,"k3":0.15,"k4":0.1,"k5":0.25,"k6":0.1,"k8":0.12,"k9":0.15,"k10":0.15,"k11":0.1,"k12":0.2,"k13":0.4,"k14":0.15,"k16":0.6,"k17":0.12,"k18":0.08,"k19":0.15,"k20":0.05,"k21":0.2,"k22":0.1},
{"x":450,"k1":0,"k2":0,"k3":0,"k4":0,"k5":0,"k6":0,"k8":0,"k9":0,"k10":0,"k11":0,"k12":0,"k13":0.03,"k14":0,"k16":0.12,"k17":0,"k18":0,"k19":0,"k20":0,"k21":0,"k22":0},
{"x":600,"k1":0,"k13":0,"k16":0.15},
{"x":700,"k16":0.3},
{"x":800,"k1":0,"k16":0.22},
{"x":1000,"k1":0,"k16":0},
{"x":1400,"k1":0},
{"x":1800,"k1":0}
]
},
"spacing":6,
"vconcat":[
{"hconcat":[
{"width":535,"height":302,"data":{"name":"A"},"layer":[
{"transform":[{"fold":["k1","k2","k3","k4","k5","k6","k7","k8","k9","k10","k11","k12","k13","k14","k15","k16","k17","k18","k19","k20","k21","k22","k23"],"as":["s","y"]},{"filter":"isValid(datum.y)"}],
"mark":{"type":"line","interpolate":"monotone","strokeWidth":1.6},
"encoding":{
"x":{"field":"x","type":"quantitative","scale":{"type":"log","domain":[0.1,10000]},"axis":{"values":[0.1,0.2,0.3,0.4,0.5,0.6,0.7,0.8,0.9,1,2,3,4,5,6,7,8,9,10,20,30,40,50,60,70,80,90,100,200,300,400,500,600,700,800,900,1000,2000,3000,4000,5000,6000,7000,8000,9000,10000],"tickCount":200,"title":null,"labels":false,"ticks":false,"domain":false,"grid":true,"gridColor":{"condition":{"test":"abs(log(datum.value)/LN10-round(log(datum.value)/LN10))<0.001","value":"#3c3c3c"},"value":"#c8c8c8"},"gridWidth":{"condition":{"test":"abs(log(datum.value)/LN10-round(log(datum.value)/LN10))<0.001","value":1},"value":1.3}}},
"y":{"field":"y","type":"quantitative","scale":{"domain":[0,7]},"axis":{"values":[0,0.2,0.4,0.6,0.8,1,1.2,1.4,1.6,1.8,2,2.2,2.4,2.6,2.8,3,3.2,3.4,3.6,3.8,4,4.2,4.4,4.6,4.8,5,5.2,5.4,5.6,5.8,6,6.2,6.4,6.6,6.8,7],"tickCount":200,"title":"Percentage (vol%)","titlePadding":21,"labelExpr":"abs(datum.value-round(datum.value))<0.01 ? format(datum.value,'d') : ''","labelPadding":1,"labelFlush":false,"labelOverlap":false,"labelOffset":{"condition":[{"test":"abs(datum.value-7)<0.01","value":11},{"test":"abs(datum.value)<0.01","value":-3}],"value":0},"domain":false,"tickColor":"#333","tickSize":{"condition":{"test":"abs(datum.value-round(datum.value))<0.01","value":5},"value":3},"grid":true,"gridColor":"#c8c8c8","gridWidth":1.3,"gridOpacity":{"condition":{"test":"abs(datum.value-round(datum.value))<0.01 && datum.value>0.5 && datum.value<6.5","value":1},"value":0}}},
"color":{"field":"s","type":"nominal","legend":null,"scale":{"domain":["k1","k2","k3","k4","k5","k6","k7","k8","k9","k10","k11","k12","k13","k14","k15","k16","k17","k18","k19","k20","k21","k22","k23"],"range":["#35a853","#1a1a1a","#f7d400","#1f4fa8","#48442e","#1b3386","#f8c18b","#f28a24","#e3191c","#2aa58e","#8369b8","#9bcb3b","#0e5b2d","#3f7fcb","#f4511e","#a63b8c","#34bcd0","#f39cbd","#a3a3a3","#8dcbea","#b01c2e","#6c79b9","#127a3c"]}}}},
{"data":{"values":[{}]},"mark":{"type":"text","text":"Cape Mamontov Klyk (","align":"right","baseline":"middle"},"encoding":{"x":{"datum":14.11,"type":"quantitative"},"y":{"datum":6.13,"type":"quantitative"}}},
{"data":{"values":[{}]},"mark":{"type":"text","text":"n","align":"left","baseline":"middle","fontStyle":"italic"},"encoding":{"x":{"datum":14.11,"type":"quantitative"},"y":{"datum":6.13,"type":"quantitative"}}},
{"data":{"values":[{}]},"mark":{"type":"text","text":"=30)","align":"left","baseline":"middle"},"encoding":{"x":{"datum":19.07,"type":"quantitative"},"y":{"datum":6.13,"type":"quantitative"}}}
]},
{"width":516,"height":302,"data":{"name":"B"},"layer":[
{"transform":[{"fold":["k1","k2","k3","k4","k5","k6","k7","k8","k9","k10","k11","k12","k13","k14","k15","k16","k17","k18","k19","k20","k21","k22","k23"],"as":["s","y"]},{"filter":"isValid(datum.y)"}],
"mark":{"type":"line","interpolate":"monotone","strokeWidth":1.6},
"encoding":{
"x":{"field":"x","type":"quantitative","scale":{"type":"log","domain":[0.1,8500]},"axis":{"values":[0.1,0.2,0.3,0.4,0.5,0.6,0.7,0.8,0.9,1,2,3,4,5,6,7,8,9,10,20,30,40,50,60,70,80,90,100,200,300,400,500,600,700,800,900,1000,2000,3000,4000,5000,6000,7000,8000],"tickCount":200,"title":null,"labels":false,"ticks":false,"domain":false,"grid":true,"gridColor":{"condition":{"test":"abs(log(datum.value)/LN10-round(log(datum.value)/LN10))<0.001","value":"#3c3c3c"},"value":"#c8c8c8"},"gridWidth":{"condition":{"test":"abs(log(datum.value)/LN10-round(log(datum.value)/LN10))<0.001","value":1},"value":1.3}}},
"y":{"field":"y","type":"quantitative","scale":{"domain":[0,7]},"axis":{"values":[0,1,2,3,4,5,6,7],"tickCount":200,"title":null,"labels":false,"ticks":false,"domain":false,"grid":true,"gridColor":"#c8c8c8","gridWidth":1.3,"gridOpacity":{"condition":{"test":"datum.value>0.5 && datum.value<6.5","value":1},"value":0}}},
"color":{"field":"s","type":"nominal","legend":null,"scale":{"domain":["k1","k2","k3","k4","k5","k6","k7","k8","k9","k10","k11","k12","k13","k14","k15","k16","k17","k18","k19","k20","k21","k22","k23"],"range":["#35a853","#1a1a1a","#f7d400","#1f4fa8","#48442e","#1b3386","#f8c18b","#f28a24","#e3191c","#2aa58e","#8369b8","#9bcb3b","#0e5b2d","#3f7fcb","#f4511e","#a63b8c","#34bcd0","#f39cbd","#a3a3a3","#8dcbea","#b01c2e","#6c79b9","#127a3c"]}}}},
{"data":{"values":[{}]},"mark":{"type":"text","text":"Bykovsky Peninsula (","align":"right","baseline":"middle"},"encoding":{"x":{"datum":12.17,"type":"quantitative"},"y":{"datum":6.13,"type":"quantitative"}}},
{"data":{"values":[{}]},"mark":{"type":"text","text":"n","align":"left","baseline":"middle","fontStyle":"italic"},"encoding":{"x":{"datum":12.17,"type":"quantitative"},"y":{"datum":6.13,"type":"quantitative"}}},
{"data":{"values":[{}]},"mark":{"type":"text","text":"=30)","align":"left","baseline":"middle"},"encoding":{"x":{"datum":16.56,"type":"quantitative"},"y":{"datum":6.13,"type":"quantitative"}}}
]}
],"spacing":19,"bounds":"flush"},
{"hconcat":[
{"width":535,"height":299,"data":{"name":"C"},"layer":[
{"transform":[{"fold":["k1","k2","k3","k4","k5","k6","k7","k8","k9","k10","k11","k12","k13","k14","k15","k16","k17","k18","k19","k20","k21","k22","k23"],"as":["s","y"]},{"filter":"isValid(datum.y)"}],
"mark":{"type":"line","interpolate":"monotone","strokeWidth":1.6},
"encoding":{
"x":{"field":"x","type":"quantitative","scale":{"type":"log","domain":[0.1,10000]},"axis":{"values":[0.1,0.2,0.3,0.4,0.5,0.6,0.7,0.8,0.9,1,2,3,4,5,6,7,8,9,10,20,30,40,50,60,70,80,90,100,200,300,400,500,600,700,800,900,1000,2000,3000,4000,5000,6000,7000,8000,9000,10000],"tickCount":200,"title":"Grain size (μm)","titlePadding":3,"labelExpr":"(abs(log(datum.value)/LN10-round(log(datum.value)/LN10))<0.001 && datum.value<5000) ? format(datum.value,'~g') : ''","labelFlush":false,"labelOverlap":false,"labelBound":false,"labelPadding":0,"domain":false,"ticks":true,"tickColor":"#333","tickSize":{"condition":{"test":"abs(log(datum.value)/LN10-round(log(datum.value)/LN10))<0.001","value":6},"value":3},"grid":true,"gridColor":{"condition":{"test":"abs(log(datum.value)/LN10-round(log(datum.value)/LN10))<0.001","value":"#3c3c3c"},"value":"#c8c8c8"},"gridWidth":{"condition":{"test":"abs(log(datum.value)/LN10-round(log(datum.value)/LN10))<0.001","value":1},"value":1.3}}},
"y":{"field":"y","type":"quantitative","scale":{"domain":[0,7]},"axis":{"values":[0,0.2,0.4,0.6,0.8,1,1.2,1.4,1.6,1.8,2,2.2,2.4,2.6,2.8,3,3.2,3.4,3.6,3.8,4,4.2,4.4,4.6,4.8,5,5.2,5.4,5.6,5.8,6,6.2,6.4,6.6,6.8,7],"tickCount":200,"title":"Percentage (vol%)","titlePadding":21,"labelExpr":"abs(datum.value-round(datum.value))<0.01 ? format(datum.value,'d') : ''","labelPadding":1,"labelFlush":false,"labelOverlap":false,"labelOffset":{"condition":[{"test":"abs(datum.value-7)<0.01","value":11},{"test":"abs(datum.value)<0.01","value":-3}],"value":0},"domain":false,"tickColor":"#333","tickSize":{"condition":{"test":"abs(datum.value-round(datum.value))<0.01","value":5},"value":3},"grid":true,"gridColor":"#c8c8c8","gridWidth":1.3,"gridOpacity":{"condition":{"test":"abs(datum.value-round(datum.value))<0.01 && datum.value>0.5 && datum.value<6.5","value":1},"value":0}}},
"color":{"field":"s","type":"nominal","legend":null,"scale":{"domain":["k1","k2","k3","k4","k5","k6","k7","k8","k9","k10","k11","k12","k13","k14","k15","k16","k17","k18","k19","k20","k21","k22","k23"],"range":["#35a853","#1a1a1a","#f7d400","#1f4fa8","#48442e","#1b3386","#f8c18b","#f28a24","#e3191c","#2aa58e","#8369b8","#9bcb3b","#0e5b2d","#3f7fcb","#f4511e","#a63b8c","#34bcd0","#f39cbd","#a3a3a3","#8dcbea","#b01c2e","#6c79b9","#127a3c"]}}}},
{"data":{"values":[{}]},"mark":{"type":"text","text":"Lena Delta, Kurungnakh Island (","align":"right","baseline":"middle"},"encoding":{"x":{"datum":97.9,"type":"quantitative"},"y":{"datum":6.13,"type":"quantitative"}}},
{"data":{"values":[{}]},"mark":{"type":"text","text":"n","align":"left","baseline":"middle","fontStyle":"italic"},"encoding":{"x":{"datum":97.9,"type":"quantitative"},"y":{"datum":6.13,"type":"quantitative"}}},
{"data":{"values":[{}]},"mark":{"type":"text","text":"=25)","align":"left","baseline":"middle"},"encoding":{"x":{"datum":132.3,"type":"quantitative"},"y":{"datum":6.13,"type":"quantitative"}}}
]},
{"width":516,"height":299,"data":{"name":"D"},"layer":[
{"transform":[{"fold":["k1","k2","k3","k4","k5","k6","k7","k8","k9","k10","k11","k12","k13","k14","k15","k16","k17","k18","k19","k20","k21","k22","k23"],"as":["s","y"]},{"filter":"isValid(datum.y)"}],
"mark":{"type":"line","interpolate":"monotone","strokeWidth":0.9},
"encoding":{
"x":{"field":"x","type":"quantitative","scale":{"type":"log","domain":[0.1,8500]},"axis":{"values":[0.1,0.2,0.3,0.4,0.5,0.6,0.7,0.8,0.9,1,2,3,4,5,6,7,8,9,10,20,30,40,50,60,70,80,90,100,200,300,400,500,600,700,800,900,1000,2000,3000,4000,5000,6000,7000,8000],"tickCount":200,"title":"Grain size (μm)","titlePadding":3,"labelExpr":"(abs(log(datum.value)/LN10-round(log(datum.value)/LN10))<0.001 && datum.value<5000) ? format(datum.value,'~g') : ''","labelFlush":false,"labelOverlap":false,"labelBound":false,"labelPadding":0,"domain":false,"ticks":true,"tickColor":"#333","tickSize":{"condition":{"test":"abs(log(datum.value)/LN10-round(log(datum.value)/LN10))<0.001","value":6},"value":3},"grid":true,"gridColor":{"condition":{"test":"abs(log(datum.value)/LN10-round(log(datum.value)/LN10))<0.001","value":"#3c3c3c"},"value":"#c8c8c8"},"gridWidth":{"condition":{"test":"abs(log(datum.value)/LN10-round(log(datum.value)/LN10))<0.001","value":1},"value":1.3}}},
"y":{"field":"y","type":"quantitative","scale":{"domain":[0,7]},"axis":{"values":[0,1,2,3,4,5,6,7],"tickCount":200,"title":null,"labels":false,"ticks":false,"domain":false,"grid":true,"gridColor":"#c8c8c8","gridWidth":1.3,"gridOpacity":{"condition":{"test":"datum.value>0.5 && datum.value<6.5","value":1},"value":0}}},
"color":{"field":"s","type":"nominal","legend":null,"scale":{"domain":["k1","k2","k3","k4","k5","k6","k7","k8","k9","k10","k11","k12","k13","k14","k15","k16","k17","k18","k19","k20","k21","k22","k23"],"range":["#35a853","#1a1a1a","#f7d400","#1f4fa8","#48442e","#1b3386","#f8c18b","#f28a24","#e3191c","#2aa58e","#8369b8","#9bcb3b","#0e5b2d","#3f7fcb","#f4511e","#a63b8c","#34bcd0","#f39cbd","#a3a3a3","#8dcbea","#b01c2e","#6c79b9","#127a3c"]}}}},
{"data":{"values":[{}]},"mark":{"type":"text","text":"Oyogos Yar coast (","align":"right","baseline":"middle"},"encoding":{"x":{"datum":7.33,"type":"quantitative"},"y":{"datum":6.13,"type":"quantitative"}}},
{"data":{"values":[{}]},"mark":{"type":"text","text":"n","align":"left","baseline":"middle","fontStyle":"italic"},"encoding":{"x":{"datum":7.33,"type":"quantitative"},"y":{"datum":6.13,"type":"quantitative"}}},
{"data":{"values":[{}]},"mark":{"type":"text","text":"=34)","align":"left","baseline":"middle"},"encoding":{"x":{"datum":9.99,"type":"quantitative"},"y":{"datum":6.13,"type":"quantitative"}}}
]}
],"spacing":19,"bounds":"flush"}
]
}
